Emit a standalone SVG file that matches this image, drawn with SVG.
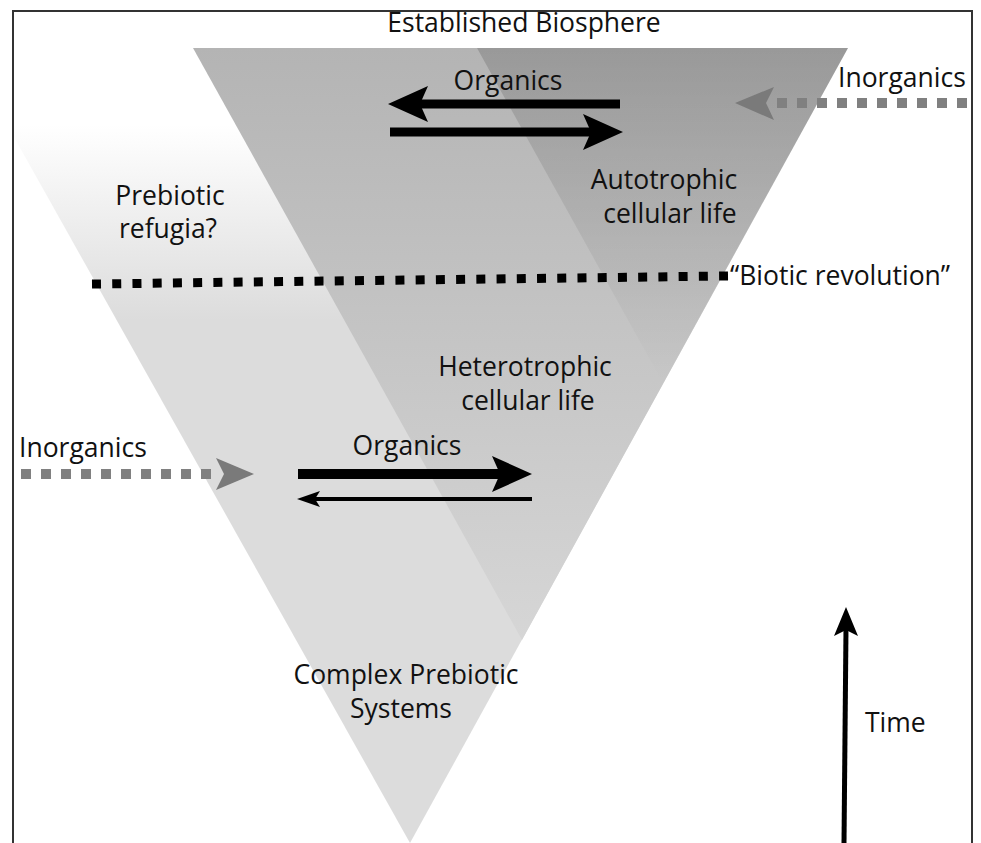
<svg xmlns="http://www.w3.org/2000/svg" width="981" height="843" viewBox="0 0 981 843">
  <defs>
    <linearGradient id="gA" gradientUnits="userSpaceOnUse" x1="0" y1="125" x2="0" y2="320">
      <stop offset="0" stop-color="#ffffff"/>
      <stop offset="1" stop-color="#dcdcdc"/>
    </linearGradient>
    <linearGradient id="gB" gradientUnits="userSpaceOnUse" x1="0" y1="48" x2="0" y2="640">
      <stop offset="0" stop-color="#b4b4b4"/>
      <stop offset="1" stop-color="#d6d6d6"/>
    </linearGradient>
    <linearGradient id="gC" gradientUnits="userSpaceOnUse" x1="0" y1="48" x2="0" y2="383">
      <stop offset="0" stop-color="#000" stop-opacity="0.15"/>
      <stop offset="1" stop-color="#000" stop-opacity="0"/>
    </linearGradient>
    <clipPath id="frameClip">
      <rect x="13" y="11" width="959" height="832"/>
    </clipPath>
  </defs>
  <style>
    text { font-family: "Open Sans", "Noto Sans", "DejaVu Sans", sans-serif; font-size: 26.5px; fill: #111; }
    .mid { text-anchor: middle; }
    .blk { fill: #000; }
    .gry { fill: #7a7a7a; }
    .dash-gray { stroke: #808080; stroke-width: 10; stroke-dasharray: 10 10; fill: none; }
    .dash-black { stroke: #000; stroke-width: 9; stroke-dasharray: 9 11.23; fill: none; }
  </style>

  <g id="regions" clip-path="url(#frameClip)">
    <g id="complex-prebiotic-systems-region">
      <polygon points="-36,48 848,48 410,843" fill="url(#gA)"/>
    </g>
    <g id="heterotrophic-region">
      <polygon points="193,48 848,48 522,640" fill="url(#gB)"/>
    </g>
    <g id="autotrophic-region">
      <polygon points="477,48 848,48 663,383" fill="url(#gC)"/>
    </g>
  </g>

  <g id="frame">
    <path d="M13,843 V11 H972 V843" fill="none" stroke="#333" stroke-width="2"/>
  </g>

  <g id="connectors">
    <g id="top-organics-left">
      <rect x="414" y="99.5" width="206" height="9" class="blk"/>
      <path d="M388,104 L428,86 L420,104 L428,122 Z" class="blk"/>
    </g>
    <g id="top-organics-right">
      <rect x="390" y="127.5" width="206" height="9" class="blk"/>
      <path d="M623,132 L583,114 L591,132 L583,150 Z" class="blk"/>
    </g>
    <g id="top-inorganics">
      <path d="M777,103 H969" class="dash-gray"/>
      <path d="M735,103 L774,87 L766,103 L774,120 Z" class="gry"/>
    </g>
    <g id="biotic-revolution-line">
      <path d="M92,284 L728,276" class="dash-black"/>
    </g>
    <g id="low-organics-right">
      <rect x="298" y="469" width="204" height="10" class="blk"/>
      <path d="M532,474 L492,456 L500,474 L492,492 Z" class="blk"/>
    </g>
    <g id="low-organics-left">
      <rect x="312" y="497" width="220" height="4" class="blk"/>
      <path d="M297,499 L320,491 L315,499 L320,507 Z" class="blk"/>
    </g>
    <g id="low-inorganics">
      <path d="M21,474 H211" class="dash-gray"/>
      <path d="M254,474 L216,458 L224,474 L216,490 Z" class="gry"/>
    </g>
    <g id="time-arrow">
      <path d="M844,843 L846,628" stroke="#000" stroke-width="5" fill="none"/>
      <path d="M846,607 L858,636 L846,630 L834,636 Z" class="blk"/>
    </g>
  </g>

  <g id="label-established-biosphere"><text x="524" y="32" class="mid">Established Biosphere</text></g>
  <g id="label-top-organics"><text x="508" y="90" class="mid">Organics</text></g>
  <g id="label-top-inorganics"><text x="838" y="87">Inorganics</text></g>
  <g id="label-autotrophic"><text x="664" y="189" class="mid">Autotrophic</text><text x="670" y="223" class="mid">cellular life</text></g>
  <g id="label-prebiotic-refugia"><text x="170" y="205" class="mid">Prebiotic</text><text x="168" y="238" class="mid">refugia?</text></g>
  <g id="label-biotic-revolution"><text x="730" y="285">“Biotic revolution”</text></g>
  <g id="label-heterotrophic"><text x="525" y="376" class="mid">Heterotrophic</text><text x="528" y="410" class="mid">cellular life</text></g>
  <g id="label-low-organics"><text x="407" y="455" class="mid">Organics</text></g>
  <g id="label-low-inorganics"><text x="19" y="457">Inorganics</text></g>
  <g id="label-complex-prebiotic"><text x="406" y="684" class="mid">Complex Prebiotic</text><text x="401" y="718" class="mid">Systems</text></g>
  <g id="label-time"><text x="865" y="732">Time</text></g>
</svg>
